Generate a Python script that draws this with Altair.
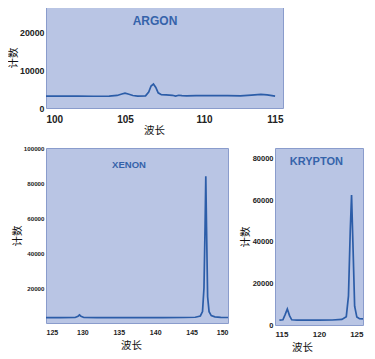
import altair as alt
import pandas as pd

# ---- data ----
argon_x = [100, 101, 102, 103, 104, 104.5, 104.8, 105.0, 105.2, 105.5, 105.8, 106.3, 106.5,
           106.65, 106.8, 106.95, 107.1, 107.3, 107.6, 108.0, 108.2, 108.4, 108.6, 108.9, 109.5,
           110.5, 111.5, 112.3, 113.0, 113.6, 114.0, 114.5]
argon_y = [3150, 3150, 3150, 3100, 3150, 3300, 3700, 3900, 3700, 3300, 3150, 3200, 4200,
           5800, 6300, 5400, 4000, 3500, 3450, 3350, 3150, 3350, 3250, 3200, 3250,
           3250, 3250, 3200, 3400, 3600, 3450, 3150]

xenon_x = [125, 127, 129.0, 129.4, 129.6, 129.8, 130.2, 132, 135, 138, 141, 144, 145.5, 146.2,
           146.5, 146.7, 146.85, 146.95, 147.05, 147.2, 147.4, 147.7, 148.2, 149, 150]
xenon_y = [3100, 3100, 3150, 3900, 4600, 3900, 3150, 3100, 3100, 3100, 3100, 3150, 3300, 4000,
           6500, 20000, 55000, 83800, 55000, 15000, 6500, 4200, 3500, 3200, 3150]

krypton_x = [115.5, 115.9, 116.15, 116.4, 116.65, 116.9, 117.5, 118.5, 120, 121.5, 122.6, 123.1,
             123.35, 123.55, 123.7, 123.85, 124.05, 124.3, 124.6, 125]
krypton_y = [2300, 2500, 5000, 7700, 4500, 2500, 2300, 2300, 2300, 2400, 2700, 4000,
             14000, 45000, 62400, 40000, 9000, 3800, 3000, 2900]

labels = ["ARGON", "XENON", "KRYPTON"]
label_x = [106.9, 136.4, 119.7]
label_y = [23000, 90500, 78500]

x_title = "波长"
y_title = "计数"

LINE = "#2c5da8"
FILL = "#b9c5e4"
TXT = "#3563aa"
LAB_FONT = "Liberation Sans"
TITLE_FONT = "Noto Sans CJK SC"


def panel(xs, ys, name, lx, ly, xdom, ydom, xticks, yticks, w, h,
          lab_size, xlab_size, ytitle_pad, xtitle_x, name_size, xlab_pad, xtitle_pad):
    df = pd.DataFrame({"x": xs, "y": ys})
    xaxis = alt.Axis(values=xticks, title=x_title, labelFontSize=xlab_size, format="d",
                     labelOverlap=False, titleX=xtitle_x, titleAnchor="start",
                     titleAlign="center", labelPadding=xlab_pad, titlePadding=xtitle_pad)
    yaxis = alt.Axis(values=yticks, title=y_title, labelFontSize=lab_size, format="d",
                     labelOverlap=False, titlePadding=ytitle_pad, labelPadding=2)
    xenc = alt.X("x:Q", scale=alt.Scale(domain=xdom, nice=False, zero=False), axis=xaxis)
    yenc = alt.Y("y:Q", scale=alt.Scale(domain=ydom, nice=False), axis=yaxis)
    line = alt.Chart(df).mark_line(color=LINE, strokeWidth=1.7).encode(x=xenc, y=yenc)
    txt = alt.Chart(pd.DataFrame({"x": [lx], "y": [ly], "t": [name]})).mark_text(
        font="Liberation Sans Narrow, Liberation Sans", fontWeight="bold",
        fontSize=name_size, color=TXT
    ).encode(x=xenc, y=yenc, text="t:N")
    return (line + txt).properties(width=w, height=h)


top = panel(argon_x, argon_y, labels[0], label_x[0], label_y[0], [100, 115], [0, 26600],
            [100, 105, 110, 115], [0, 10000, 20000], 237, 101, 8.8, 10, 1, 108, 12, 6, 1)
left = panel(xenon_x, xenon_y, labels[1], label_x[1], label_y[1], [125, 150], [0, 100000],
             [125, 130, 135, 140, 145, 150], [20000, 40000, 60000, 80000, 100000], 182, 175,
             6.2, 7, 1, 85, 9.5, 5, 5)
right = panel(krypton_x, krypton_y, labels[2], label_x[2], label_y[2], [115, 125], [0, 85000],
              [115, 120, 125], [0, 20000, 40000, 60000, 80000], 88, 177, 7.5, 8, 2, 27, 11, 5, 4)

chart = alt.vconcat(top, alt.hconcat(left, right, spacing=7), spacing=8).properties(
    padding={"left": 0, "top": -2, "right": 0, "bottom": 0}
).configure_view(
    fill=FILL, stroke="#8a9ccc", strokeWidth=1
).configure_axis(
    domain=False, ticks=False, grid=False,
    labelFont=LAB_FONT, labelFontWeight="bold", labelColor="#222222",
    titleFont=TITLE_FONT, titleFontWeight="normal", titleFontSize=10.5, titleColor="#111111",
)

chart.save("out.html", embed_options={"renderer": "svg", "actions": False})
